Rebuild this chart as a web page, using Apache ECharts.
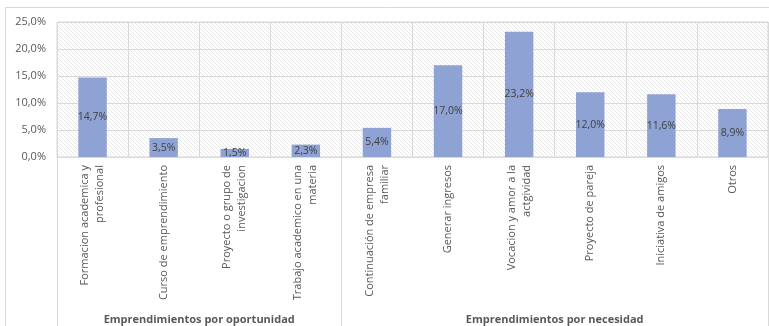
<!DOCTYPE html>
<html>
<head>
<meta charset="utf-8">
<script src="https://cdn.jsdelivr.net/npm/echarts@6/dist/echarts.min.js"></script>
<style>
html,body{margin:0;padding:0;background:#fff;}
#c{width:769px;height:326px;}
</style>
</head>
<body>
<div id="c"></div>
<script>
const categories = [
  "Formacion academica y\nprofesional",
  "Curso de emprendimiento",
  "Proyecto o grupo de\ninvestigacion",
  "Trabajo academico en una\nmateria",
  "Continuación de empresa\nfamiliar",
  "Generar ingresos",
  "Vocacion y amor a la\nactgividad",
  "Proyecto de pareja",
  "Iniciativa de amigos",
  "Otros"
];
const values = [14.7, 3.5, 1.5, 2.3, 5.4, 17.0, 23.2, 12.0, 11.6, 8.9];
const yTicks = [0, 5, 10, 15, 20, 25];
const groupNames = ["Emprendimientos por oportunidad", "Emprendimientos por necesidad"];
const groupSizes = [4, 6];

function fmt(v){ return v.toFixed(1).replace('.', ',') + '%'; }

// hatch pattern
const pc = document.createElement('canvas');
pc.width = 4; pc.height = 4;
const g = pc.getContext('2d');
g.fillStyle = '#ffffff'; g.fillRect(0,0,4,4);
g.strokeStyle = '#e8e8e8'; g.lineWidth = 1;
g.beginPath();
g.moveTo(-1,-1); g.lineTo(5,5);
g.moveTo(-1,3); g.lineTo(1,5);
g.moveTo(3,-1); g.lineTo(5,1);
g.stroke();

const chart = echarts.init(document.getElementById('c'), null, {renderer:'canvas'});
const FONT = '"Open Sans", sans-serif';
chart.setOption({
  animation: false,
  backgroundColor: '#fff',
  grid: {
    left: 57, right: 1, top: 22, bottom: 169,
    show: true,
    backgroundColor: {image: pc, repeat: 'repeat'},
    borderColor: '#d9d9d9', borderWidth: 1
  },
  xAxis: {
    type: 'category',
    data: categories,
    axisLine: {show: true, lineStyle: {color: '#d9d9d9'}},
    axisTick: {show: false},
    splitLine: {show: true, interval: 0, lineStyle: {color: '#d9d9d9', width: 1}},
    axisLabel: {
      interval: 0, rotate: 90, margin: 8,
      color: '#595959', fontFamily: FONT, fontSize: 11, lineHeight: 15
    }
  },
  yAxis: {
    type: 'value', min: yTicks[0], max: yTicks[yTicks.length-1], interval: 5,
    axisLine: {show: false}, axisTick: {show: false},
    splitLine: {lineStyle: {color: '#d9d9d9', width: 1}},
    axisLabel: {formatter: fmt, color: '#595959', fontFamily: FONT, fontSize: 11, margin: 11}
  },
  series: [{
    type: 'bar',
    data: values,
    barWidth: '40%',
    itemStyle: {color: '#8FA2D4'},
    label: {
      show: true, position: 'inside',
      formatter: p => fmt(p.value),
      color: '#404040', fontFamily: FONT, fontSize: 10.5
    }
  }]
});

// group separators and labels positioned via the axis scale
const bottomY = chart.convertToPixel({gridIndex:0}, [0, 0])[1];
const firstX = chart.convertToPixel({xAxisIndex:0}, 0);
const secondX = chart.convertToPixel({xAxisIndex:0}, 1);
const step = secondX - firstX;
const elements = [{
  type: 'rect', silent: true,
  shape: {x: 5.5, y: 7.5, width: 800, height: 400},
  style: {fill: null, stroke: '#d9d9d9', lineWidth: 1}
}];
let start = 0;
const bounds = [firstX - step/2];
groupSizes.forEach((n, i) => {
  const x0 = chart.convertToPixel({xAxisIndex:0}, start) - step/2;
  const x1 = chart.convertToPixel({xAxisIndex:0}, start + n - 1) + step/2;
  bounds.push(x1);
  elements.push({
    type: 'text', silent: true,
    x: (x0 + x1) / 2, y: 320,
    style: {text: groupNames[i], fill: '#595959', font: 'bold 11px ' + FONT, align: 'center', verticalAlign: 'middle'}
  });
  start += n;
});
bounds.forEach(b => {
  const x = Math.round(b) + 0.5;
  elements.push({
    type: 'line', silent: true,
    shape: {x1: x, y1: bottomY, x2: x, y2: 326},
    style: {stroke: '#d9d9d9', lineWidth: 1}
  });
});
chart.setOption({graphic: {elements}});
</script>
</body>
</html>
